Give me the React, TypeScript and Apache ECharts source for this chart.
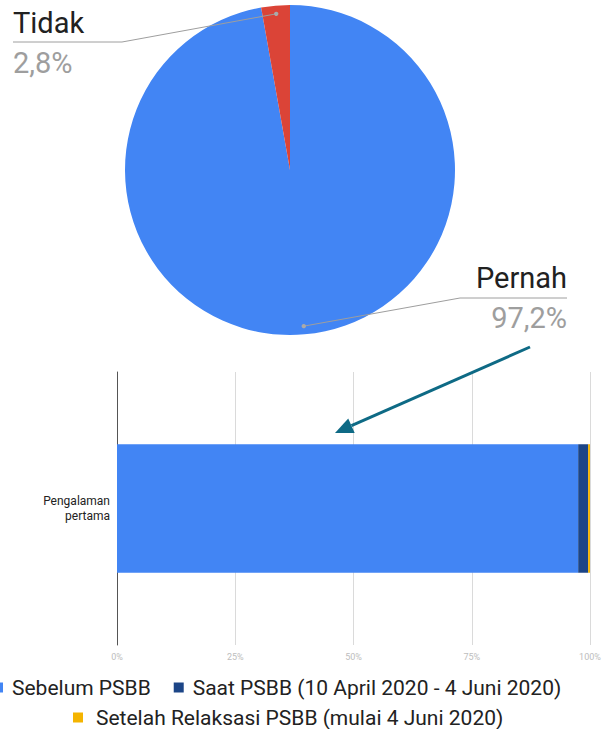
import React, { useEffect, useRef } from 'react';
import * as echarts from 'echarts';

// ---- data ----
const pieNames = ['Pernah', 'Tidak'];
const pieValues = [97.2, 2.8];
const pieColors = ['#4285F4', '#DB4437'];

const barCategories = ['Pengalaman\npertama'];
const barSeriesNames = [
  'Sebelum PSBB',
  'Saat PSBB (10 April 2020 - 4 Juni 2020)',
  'Setelah Relaksasi PSBB (mulai 4 Juni 2020)',
];
const barValues = [97.5, 2.1, 0.4];
const barColors = ['#4285F4', '#1C4587', '#F4B400'];

// ---- layout ----
const PIE_CX = 290;
const PIE_CY = 170;
const PIE_R = 165;
const labelAnchors = [
  { x: 567, y: 298, align: 'right', elbowX: 460, lineY: 298, endX: 567 },
  { x: 13, y: 43, align: 'left', elbowX: 122, lineY: 42, endX: 13 },
];

function sliceDots() {
  const total = pieValues.reduce((a, b) => a + b, 0);
  let cum = 0;
  return pieValues.map((v) => {
    const mid = (cum + v / 2) / total;
    cum += v;
    const ang = Math.PI / 2 - mid * Math.PI * 2;
    return {
      x: PIE_CX + 0.95 * PIE_R * Math.cos(ang),
      y: PIE_CY - 0.95 * PIE_R * Math.sin(ang),
    };
  });
}

export default function App() {
  const ref = useRef<HTMLDivElement>(null);
  useEffect(() => {
    if (!ref.current) return;
    const chart = echarts.init(ref.current, undefined, { renderer: 'svg' });
    const dots = sliceDots();

    // arrow
    const ax1 = 530, ay1 = 347, tipX = 335, tipY = 433;
    const dx = tipX - ax1, dy = tipY - ay1;
    const len = Math.sqrt(dx * dx + dy * dy);
    const ux = dx / len, uy = dy / len;
    const headLen = 18, headHalf = 8;
    const bx = tipX - ux * headLen, by = tipY - uy * headLen;
    const nx = -uy, ny = ux;

    const option: any = {
      animation: false,
      textStyle: { fontFamily: 'Roboto' },
      grid: { left: 117, right: 14, top: 372, bottom: 84 },
      legend: [
        {
          left: -7,
          top: 677,
          padding: 0,
          data: [barSeriesNames[0], barSeriesNames[1]],
          icon: 'rect',
          itemWidth: 10,
          itemHeight: 10,
          itemGap: 23,
          textStyle: { fontSize: 21, color: '#222', fontFamily: 'Roboto', padding: [0, 0, 0, 4] },
        },
        {
          left: 73,
          top: 707,
          padding: 0,
          data: [barSeriesNames[2]],
          icon: 'rect',
          itemWidth: 10,
          itemHeight: 10,
          textStyle: { fontSize: 21, color: '#222', fontFamily: 'Roboto', padding: [0, 0, 0, 8] },
        },
      ],
      xAxis: {
        type: 'value',
        min: 0,
        max: 100,
        interval: 25,
        axisLine: { show: false },
        axisTick: { show: false },
        axisLabel: { formatter: '{value}%', color: '#bdbdbd', fontSize: 9, margin: 7 },
        splitLine: { lineStyle: { color: '#dadada' } },
      },
      yAxis: {
        type: 'category',
        data: barCategories,
        axisLine: { show: true, lineStyle: { color: '#555' } },
        axisTick: { show: false },
        axisLabel: { fontSize: 12, color: '#222', lineHeight: 15, margin: 7 },
        splitLine: { show: false },
      },
      series: [
        {
          type: 'pie',
          center: [PIE_CX, PIE_CY],
          radius: PIE_R,
          startAngle: 90,
          clockwise: true,
          avoidLabelOverlap: false,
          data: pieNames.map((n, i) => ({ name: n, value: pieValues[i], itemStyle: { color: pieColors[i] } })),
          label: {
            show: true,
            formatter: (p: any) => `{n|${p.name}}\n{p|${p.percent.toFixed(1).replace('.', ',')}%}`,
            rich: {
              n: { fontSize: 29, color: '#212121', lineHeight: 40, fontFamily: 'Roboto' },
              p: { fontSize: 29, color: '#9e9e9e', lineHeight: 40, fontFamily: 'Roboto' },
            },
          },
          labelLine: { show: false },
          labelLayout: (params: any) => {
            const a = labelAnchors[params.dataIndex];
            return { x: a.x, y: a.y, align: a.align, verticalAlign: 'middle' };
          },
          emphasis: { disabled: true },
        },
        ...barSeriesNames.map((n, i) => ({
          type: 'bar',
          name: n,
          stack: 'total',
          barWidth: '47%',
          data: [barValues[i]],
          itemStyle: { color: barColors[i] },
        })),
      ],
      graphic: [
        ...dots.map((d, i) => ({
          type: 'polyline',
          shape: {
            points: [
              [d.x, d.y],
              [labelAnchors[i].elbowX, labelAnchors[i].lineY],
              [labelAnchors[i].endX, labelAnchors[i].lineY],
            ],
          },
          style: { stroke: '#9e9e9e', lineWidth: 1, fill: null },
          z: 100,
        })),
        ...dots.map((d) => ({
          type: 'circle',
          shape: { cx: d.x, cy: d.y, r: 2.2 },
          style: { fill: '#aaaaaa' },
          z: 101,
        })),
        {
          type: 'line',
          shape: { x1: ax1, y1: ay1, x2: bx, y2: by },
          style: { stroke: '#0E6A85', lineWidth: 3 },
          z: 100,
        },
        {
          type: 'polygon',
          shape: {
            points: [
              [tipX, tipY],
              [bx + nx * headHalf, by + ny * headHalf],
              [bx - nx * headHalf, by - ny * headHalf],
            ],
          },
          style: { fill: '#0E6A85' },
          z: 100,
        },
      ],
    };
    chart.setOption(option);
    return () => chart.dispose();
  }, []);
  return (
    <div
      ref={ref}
      style={{ position: 'absolute', left: 0, top: 0, width: 604, height: 729, background: '#fff' }}
    />
  );
}
